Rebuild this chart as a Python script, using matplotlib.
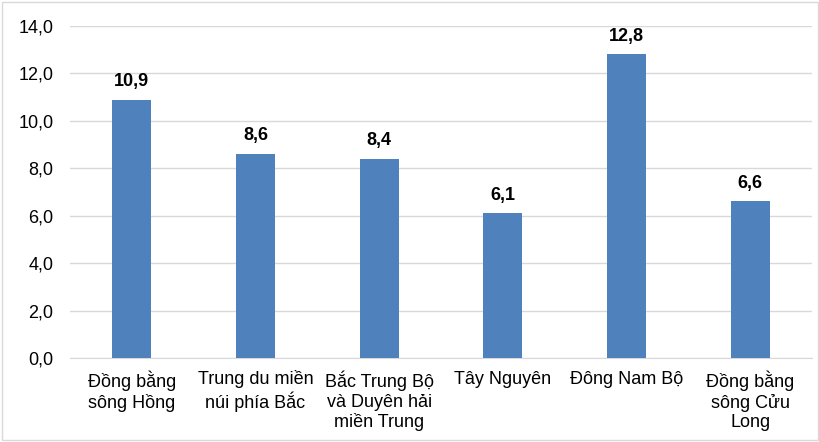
import matplotlib.pyplot as plt
from matplotlib.patches import Rectangle

plt.rcParams['font.family'] = ['Liberation Sans', 'DejaVu Sans']

regions = ['Đồng bằng\nsông Hồng', 'Trung du miền\nnúi phía Bắc', 'Bắc Trung Bộ\nvà Duyên hải\nmiền Trung',
           'Tây Nguyên', 'Đông Nam Bộ', 'Đồng bằng\nsông Cửu\nLong']
values = [10.9, 8.6, 8.4, 6.1, 12.8, 6.6]
yticks = [0, 2, 4, 6, 8, 10, 12, 14]

fig = plt.figure(figsize=(8.2, 4.42), dpi=100)
ax = fig.add_axes([70/820, 1 - 358/442, (812-70)/820, (358-26)/442])

x = range(len(values))
bars = ax.bar(x, values, width=0.315, color='#4F81BD', zorder=3)
for b, v in zip(bars, values):
    ax.annotate(f'{v:.1f}'.replace('.', ','), (b.get_x() + b.get_width()/2, v),
                xytext=(0, 7), textcoords='offset points', ha='center', va='bottom',
                fontsize=13, fontweight='bold', color='black')

ax.set_xlim(-0.5, len(values) - 0.5)
ax.set_ylim(0, 14)
ax.set_yticks(yticks)
ax.set_yticklabels([f'{t:.1f}'.replace('.', ',') for t in yticks], fontsize=13)
ax.set_xticks(list(x))
ax.set_xticklabels(regions, fontsize=13, linespacing=1.2)
ax.tick_params(axis='both', length=0, colors='black')
ax.tick_params(axis='y', pad=12)
ax.tick_params(axis='x', pad=9)
ax.grid(axis='y', color='#d9d9d9', linewidth=1, zorder=0)
for s in ['top', 'right', 'left']:
    ax.spines[s].set_visible(False)
ax.spines['bottom'].set_color('#d9d9d9')

fig.patches.append(Rectangle((0.002, 0.004), 0.996, 0.992, transform=fig.transFigure,
                             fill=False, edgecolor='#d9d9d9', linewidth=1))

fig.savefig('out.png', dpi=100)
